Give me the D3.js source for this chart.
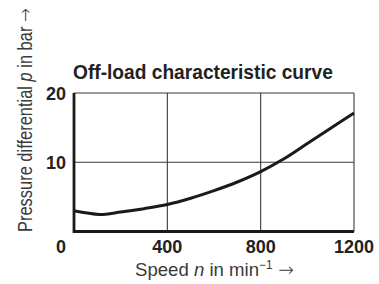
<!DOCTYPE html>
<html>
<head>
<meta charset="utf-8">
<script src="https://cdn.jsdelivr.net/npm/d3@7"></script>
<style>
  body { margin: 0; background: #fff; }
  svg { display: block; font-family: "Liberation Sans Narrow", "Liberation Sans", sans-serif; }
</style>
</head>
<body>
<svg id="chart" width="379" height="284"></svg>
<script>
// speed n (min^-1) vs pressure differential p (bar)
var speed = [0, 50, 110, 200, 300, 400, 500, 600, 700, 800, 900, 1000, 1100, 1200];
var pressure = [3.0, 2.7, 2.45, 2.8, 3.3, 3.9, 4.8, 5.9, 7.15, 8.65, 10.5, 12.7, 14.9, 17.1];
var xTicks = [400, 800, 1200];
var yTicks = [10, 20];

var svg = d3.select("#chart");

var x = d3.scaleLinear().domain([0, 1200]).range([74, 354]);
var y = d3.scaleLinear().domain([0, 20]).range([231.5, 93]);

// squeeze a text horizontally so it spans the wanted width
function fitWidth(sel, target, base) {
	var w = sel.node().getComputedTextLength();
	sel.attr("transform", base + " scale(" + (target / w) + ",1)");
}

// grid
svg.append("g").selectAll("line")
	.data(xTicks)
	.enter().append("line")
		.attr("x1", function(d){ return x(d); })
		.attr("x2", function(d){ return x(d); })
		.attr("y1", y(20))
		.attr("y2", y(0))
		.attr("stroke", "#3a3a3a")
		.attr("stroke-width", 1.1);

svg.append("g").selectAll("line")
	.data(yTicks)
	.enter().append("line")
		.attr("x1", x(0))
		.attr("x2", x(1200))
		.attr("y1", function(d){ return y(d); })
		.attr("y2", function(d){ return y(d); })
		.attr("stroke", "#3a3a3a")
		.attr("stroke-width", 1.1);

// thick axes left + bottom
svg.append("path")
	.attr("d", "M" + x(0) + "," + y(20) + "V" + y(0) + "H" + x(1200))
	.attr("fill", "none")
	.attr("stroke", "#1a1a1a")
	.attr("stroke-width", 2.8);

// curve
var line = d3.line()
	.x(function(d, i){ return x(speed[i]); })
	.y(function(d){ return y(d); })
	.curve(d3.curveCatmullRom.alpha(0.5));

svg.append("path")
	.datum(pressure)
	.attr("d", line)
	.attr("fill", "none")
	.attr("stroke", "#1a1a1a")
	.attr("stroke-width", 3)
	.attr("stroke-linejoin", "round");

// tick labels
svg.append("g").selectAll("text")
	.data(xTicks)
	.enter().append("text")
		.attr("x", function(d){ return x(d); })
		.attr("y", 252.5)
		.attr("text-anchor", "middle")
		.attr("font-weight", "bold")
		.attr("font-size", 18)
		.attr("fill", "#222")
		.text(function(d){ return d; });

svg.append("g").selectAll("text")
	.data(yTicks)
	.enter().append("text")
		.attr("x", 66)
		.attr("y", function(d){ return y(d) + 6.5; })
		.attr("text-anchor", "end")
		.attr("font-weight", "bold")
		.attr("font-size", 18)
		.attr("fill", "#222")
		.text(function(d){ return d; });

svg.append("text")
	.attr("x", 66)
	.attr("y", 252.5)
	.attr("text-anchor", "end")
	.attr("font-weight", "bold")
	.attr("font-size", 18)
	.attr("fill", "#222")
	.text("0");

// title
var title = svg.append("text")
	.attr("font-weight", "bold")
	.attr("font-size", 20)
	.attr("fill", "#222")
	.text("Off-load characteristic curve");
fitWidth(title, 260, "translate(73,79)");

// x label
var xLabel = svg.append("text")
	.attr("font-size", 19)
	.attr("fill", "#3a3a3a");
xLabel.append("tspan").text("Speed ");
xLabel.append("tspan").attr("font-style", "italic").text("n");
xLabel.append("tspan").text(" in min");
xLabel.append("tspan").attr("font-size", 12).attr("dy", -7).text("\u22121");
xLabel.append("tspan").attr("dy", 7).attr("font-family", "DejaVu Sans").attr("font-weight", 200).text(" \u2192");
fitWidth(xLabel, 159, "translate(135,275.5)");

// y label
var yLabel = svg.append("text")
	.attr("font-size", 20)
	.attr("fill", "#3a3a3a");
yLabel.append("tspan").text("Pressure differential ");
yLabel.append("tspan").attr("font-style", "italic").text("p");
yLabel.append("tspan").text(" in bar ");
yLabel.append("tspan").attr("font-family", "DejaVu Sans").attr("font-weight", 200).text("\u2192");
fitWidth(yLabel, 224, "translate(32,232) rotate(-90)");
</script>
</body>
</html>
